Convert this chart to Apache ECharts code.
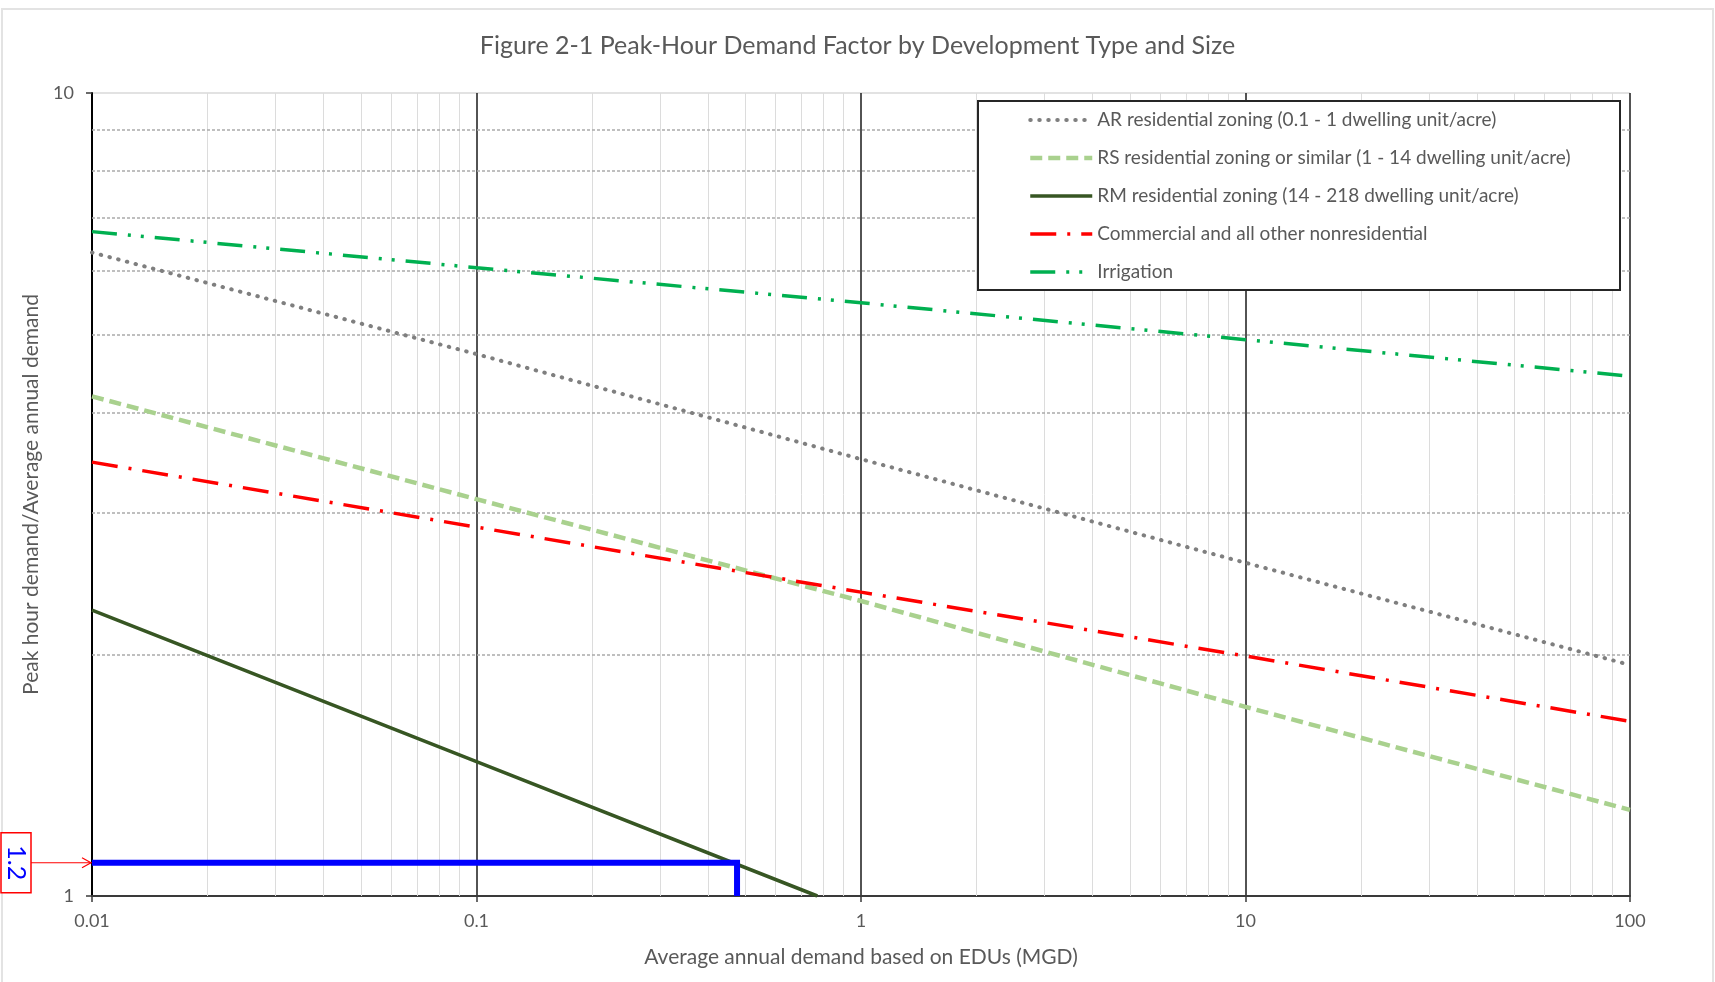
<!DOCTYPE html>
<html><head><meta charset="utf-8">
<script src="https://cdn.jsdelivr.net/npm/echarts@6/dist/echarts.min.js"></script>
<style>html,body{margin:0;padding:0;background:#fff}#c{width:1715px;height:982px}</style>
</head><body><div id="c"></div>
<script>
// ---- data ----
const titleText = 'Figure 2-1 Peak-Hour Demand Factor by Development Type and Size';
const xAxisName = 'Average annual demand based on EDUs (MGD)';
const yAxisName = 'Peak hour demand/Average annual demand';
const xTickLabels = ['0.01', '0.1', '1', '10', '100'];
const yTickLabels = ['1', '10'];
const xMinorGrid = [0.02,0.03,0.04,0.05,0.06,0.07,0.08,0.09,
                    0.2,0.3,0.4,0.5,0.6,0.7,0.8,0.9,
                    2,3,4,5,6,7,8,9,
                    20,30,40,50,60,70,80,90];
const yMinorGrid = [2,3,4,5,6,7,8,9];
const seriesNames = [
  'AR residential zoning (0.1 - 1 dwelling unit/acre)',
  'RS residential zoning or similar (1 - 14 dwelling unit/acre)',
  'RM residential zoning (14 - 218 dwelling unit/acre)',
  'Commercial and all other nonresidential',
  'Irrigation'
];
const xPoints = [0.01, 0.1, 1, 10, 100];
const arValues = [6.33, 4.73, 3.50, 2.60, 1.94];
const rsValues = [4.19, 3.12, 2.33, 1.72, 1.28];
const commercialValues = [3.47, 2.88, 2.39, 1.99, 1.65];
const irrigationValues = [6.72, 6.06, 5.48, 4.93, 4.44];
const rmX = [0.01, 0.1, 0.77];
const rmValues = [2.27, 1.47, 1.0];
const readingX = [0.01, 0.476, 0.476];
const readingY = [1.1, 1.1, 1.0];
const readingLabel = '1.2';

const FONT = 'Lato';
const pair = (xs, ys) => xs.map((x, i) => [x, ys[i]]);
const fmt = v => {
  const s = String(Number(Number(v).toPrecision(6)));
  return xTickLabels.includes(s) || yTickLabels.includes(s) ? s : '';
};
const colors = ['#7f7f7f', '#a9d18e', '#375623', '#ff0000', '#00b050'];

const chart = echarts.init(document.getElementById('c'), null, {renderer: 'canvas'});

const option = {
  animation: false,
  backgroundColor: '#fff',
  color: colors,
  title: {
    text: titleText, left: 'center', top: 28,
    textStyle: {fontFamily: FONT, fontSize: 25, fontWeight: 'normal', color: '#595959'}
  },
  grid: {left: 92, right: 85, top: 93, bottom: 86},
  xAxis: {
    type: 'log', logBase: 10, min: 0.01, max: 100,
    name: xAxisName, nameLocation: 'middle', nameGap: 51,
    nameTextStyle: {fontFamily: FONT, fontSize: 21, color: '#595959'},
    axisLine: {lineStyle: {color: '#3a3a3a', width: 2}},
    axisTick: {show: true, length: 6, lineStyle: {color: '#3a3a3a', width: 1.5}},
    axisLabel: {fontFamily: FONT, fontSize: 18, color: '#595959', margin: 16, formatter: fmt},
    splitLine: {show: true, lineStyle: {color: '#1a1a1a', width: 1.5}},
    minorTick: {show: false}, minorSplitLine: {show: false}
  },
  yAxis: {
    type: 'log', logBase: 10, min: 1, max: 10,
    name: yAxisName, nameLocation: 'middle', nameGap: 50,
    nameTextStyle: {fontFamily: FONT, fontSize: 21, color: '#595959'},
    axisLine: {show: true, lineStyle: {color: '#000', width: 2}},
    axisTick: {show: true, length: 6, lineStyle: {color: '#3a3a3a', width: 1.5}},
    axisLabel: {fontFamily: FONT, fontSize: 18, color: '#595959', margin: 18, formatter: fmt},
    splitLine: {show: true, lineStyle: {color: '#d9d9d9', width: 1.5}}
  },
  legend: {
    data: seriesNames, orient: 'vertical', left: 978, top: 101, z: 10,
    padding: [9, 0, 9, 50], itemWidth: 62, itemHeight: 14, itemGap: 18,
    itemStyle: {opacity: 0, borderWidth: 0},
    lineStyle: {width: 'inherit', type: 'inherit', cap: 'inherit'},
    textStyle: {fontFamily: FONT, fontSize: 19, color: '#595959', lineHeight: 20}
  },
  series: [
    {
      type: 'line', name: 'grid', data: [], silent: true, z: 1,
      markLine: {
        silent: true, z: 1, symbol: ['none', 'none'], label: {show: false}, animation: false,
        data: [
          ...xMinorGrid.map(v => ({xAxis: v, lineStyle: {color: '#dcdcdc', width: 1, type: 'solid'}})),
          ...yMinorGrid.map(v => ({yAxis: v, lineStyle: {color: '#ababab', width: 1.5, type: [3, 2]}}))
        ]
      }
    },
    {
      type: 'line', name: seriesNames[0], data: pair(xPoints, arValues), symbol: 'none', z: 3,
      itemStyle: {color: colors[0]},
      lineStyle: {color: colors[0], width: 4, type: [0.5, 8.5], cap: 'round'}
    },
    {
      type: 'line', name: seriesNames[1], data: pair(xPoints, rsValues), symbol: 'none', z: 3,
      itemStyle: {color: colors[1]},
      lineStyle: {color: colors[1], width: 4.5, type: [12, 6]}
    },
    {
      type: 'line', name: seriesNames[2], data: pair(rmX, rmValues), symbol: 'none', z: 3,
      itemStyle: {color: colors[2]},
      lineStyle: {color: colors[2], width: 3.5, type: 'solid'}
    },
    {
      type: 'line', name: seriesNames[3], data: pair(xPoints, commercialValues), symbol: 'none', z: 3,
      itemStyle: {color: colors[3]},
      lineStyle: {color: colors[3], width: 3.5, type: [26, 11, 3, 11]}
    },
    {
      type: 'line', name: seriesNames[4], data: pair(xPoints, irrigationValues), symbol: 'none', z: 3,
      itemStyle: {color: colors[4]},
      lineStyle: {color: colors[4], width: 3.5, type: [25, 11, 3, 10, 3, 11]}
    },
    {
      type: 'line', name: 'reading', data: pair(readingX, readingY), symbol: 'none', z: 4,
      itemStyle: {color: '#0000ff'},
      lineStyle: {color: '#0000ff', width: 6, join: 'miter'}
    }
  ]
};
chart.setOption(option);

// annotation placed through the chart's own scales
const p = chart.convertToPixel({gridIndex: 0}, [readingX[0], readingY[0]]);
const ax = p[0], ay = p[1];
chart.setOption({
  graphic: [
    {type: 'rect', z: 0, silent: true,
     shape: {x: 2, y: 9, width: 1711, height: 1000},
     style: {fill: 'none', stroke: '#e3e3e3', lineWidth: 2}},
    {type: 'rect', z: 9, silent: true,
     shape: {x: 978, y: 101, width: 642, height: 189},
     style: {fill: '#fff', stroke: '#262626', lineWidth: 2}},
    {type: 'rect', z: 20, silent: true,
     shape: {x: 1, y: ay - 30, width: 30, height: 60},
     style: {fill: '#fff', stroke: '#ff0000', lineWidth: 1.5}},
    {type: 'text', z: 21, silent: true, x: 16, y: ay, rotation: -Math.PI / 2,
     style: {text: readingLabel, fontFamily: FONT, fontSize: 25, fill: '#0000ff',
             align: 'center', verticalAlign: 'middle'}},
    {type: 'polyline', z: 20, silent: true,
     shape: {points: [[31, ay], [ax - 1, ay]]},
     style: {stroke: '#ff0000', lineWidth: 1.2}},
    {type: 'polyline', z: 20, silent: true,
     shape: {points: [[ax - 10, ay - 5], [ax - 1, ay], [ax - 10, ay + 5]]},
     style: {stroke: '#ff0000', lineWidth: 1.2, fill: 'none'}}
  ]
});
</script>
</body></html>
